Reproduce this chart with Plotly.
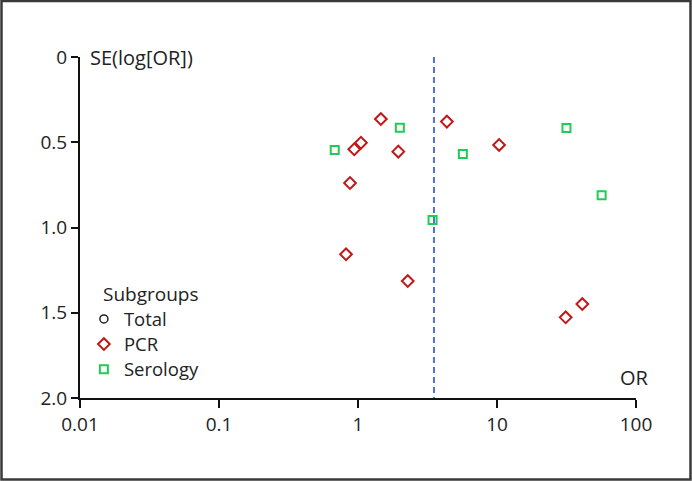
import plotly.graph_objects as go

# funnel plot: odds ratio vs standard error of log(OR)
pcr_or = [1.46, 4.36, 1.05, 0.94, 1.95, 10.35, 0.876, 0.82, 2.28, 41.1, 31.2]
pcr_se = [0.364, 0.379, 0.503, 0.541, 0.555, 0.516, 0.739, 1.157, 1.314, 1.449, 1.527]

sero_or = [2.0, 0.68, 5.68, 31.6, 56.6, 3.44]
sero_se = [0.415, 0.545, 0.569, 0.416, 0.811, 0.956]

pooled_or = 3.52

x_ticks = [0.01, 0.1, 1, 10, 100]
x_ticktext = ["0.01", "0.1", "1", "10", "100"]
y_ticks = [0, 0.5, 1.0, 1.5, 2.0]
y_ticktext = ["0", "0.5", "1.0", "1.5", "2.0"]

W, H = 692, 481
ML, MR, MT, MB = 80, 56, 57, 83
PW, PH = W - ML - MR, H - MT - MB

FONT = "Open Sans, Segoe UI, sans-serif"
TXT = "#222222"


def big(label):
    # legend rows stay compact (legend font 17) while the label itself is a bit larger
    return '<span style="font-size:18.5px">%s</span>' % label


fig = go.Figure()

fig.add_trace(go.Scatter(
    x=[None], y=[None], mode="markers", name=big("Total"),
    marker=dict(symbol="circle-open", size=8, color="#222222", line=dict(width=1.5)),
))
fig.add_trace(go.Scatter(
    x=pcr_or, y=pcr_se, mode="markers", name=big("PCR"),
    marker=dict(symbol="diamond-open", size=9, color="#c01818", line=dict(width=2)),
))
fig.add_trace(go.Scatter(
    x=sero_or, y=sero_se, mode="markers", name=big("Serology"),
    marker=dict(symbol="square-open", size=8, color="#1fcc55", line=dict(width=2)),
))

# pooled estimate
fig.add_shape(
    type="line", xref="x", yref="y",
    x0=pooled_or, x1=pooled_or, y0=0, y1=2,
    line=dict(color="#5070e0", width=2, dash="6px,4px"),
)

# outer frame of the picture
fig.add_shape(
    type="rect", xref="paper", yref="paper",
    x0=-(ML - 1.5) / PW, x1=1 + (MR - 1.5) / PW,
    y0=-(MB - 1.5) / PH, y1=1 + (MT - 1) / PH,
    line=dict(color="#3a3a3a", width=2.5),
)

fig.add_annotation(
    x=0, y=1, xref="paper", yref="paper", xshift=8,
    text="SE(log[OR])", showarrow=False,
    xanchor="left", yanchor="middle",
    font=dict(size=20, color=TXT, family=FONT),
)
fig.add_annotation(
    x=1, y=0, xref="paper", yref="paper", xshift=15, yshift=5,
    text="OR", showarrow=False,
    xanchor="right", yanchor="bottom",
    font=dict(size=20, color=TXT, family=FONT),
)
# legend heading
fig.add_annotation(
    x=(101 - ML) / PW, y=(PH + MT - 294) / PH, xref="paper", yref="paper",
    text="Subgroups", showarrow=False,
    xanchor="left", yanchor="middle",
    font=dict(size=19, color=TXT, family=FONT),
)

fig.update_layout(
    width=W, height=H,
    margin=dict(l=ML, r=MR, t=MT, b=MB),
    paper_bgcolor="white",
    plot_bgcolor="white",
    font=dict(family=FONT, size=19, color=TXT),
    showlegend=True,
    legend=dict(
        x=0.007, y=0.031, xanchor="left", yanchor="bottom",
        bgcolor="rgba(0,0,0,0)",
        font=dict(size=17, color=TXT),
        tracegroupgap=0,
    ),
    xaxis=dict(
        type="log", range=[-2, 2],
        tickvals=x_ticks, ticktext=x_ticktext,
        showgrid=False, zeroline=False,
        showline=True, linecolor="#111111", linewidth=2,
        ticks="outside", ticklen=8, tickwidth=1.5, tickcolor="#111111",
    ),
    yaxis=dict(
        range=[2, 0],
        tickvals=y_ticks, ticktext=y_ticktext,
        showgrid=False, zeroline=False,
        showline=True, linecolor="#111111", linewidth=2,
        ticks="outside", ticklen=7, tickwidth=1.5, tickcolor="#111111",
    ),
)

fig.write_html(
    "out.html",
    config={"displayModeBar": False},
    post_script="document.body.style.margin='0px';",
)
